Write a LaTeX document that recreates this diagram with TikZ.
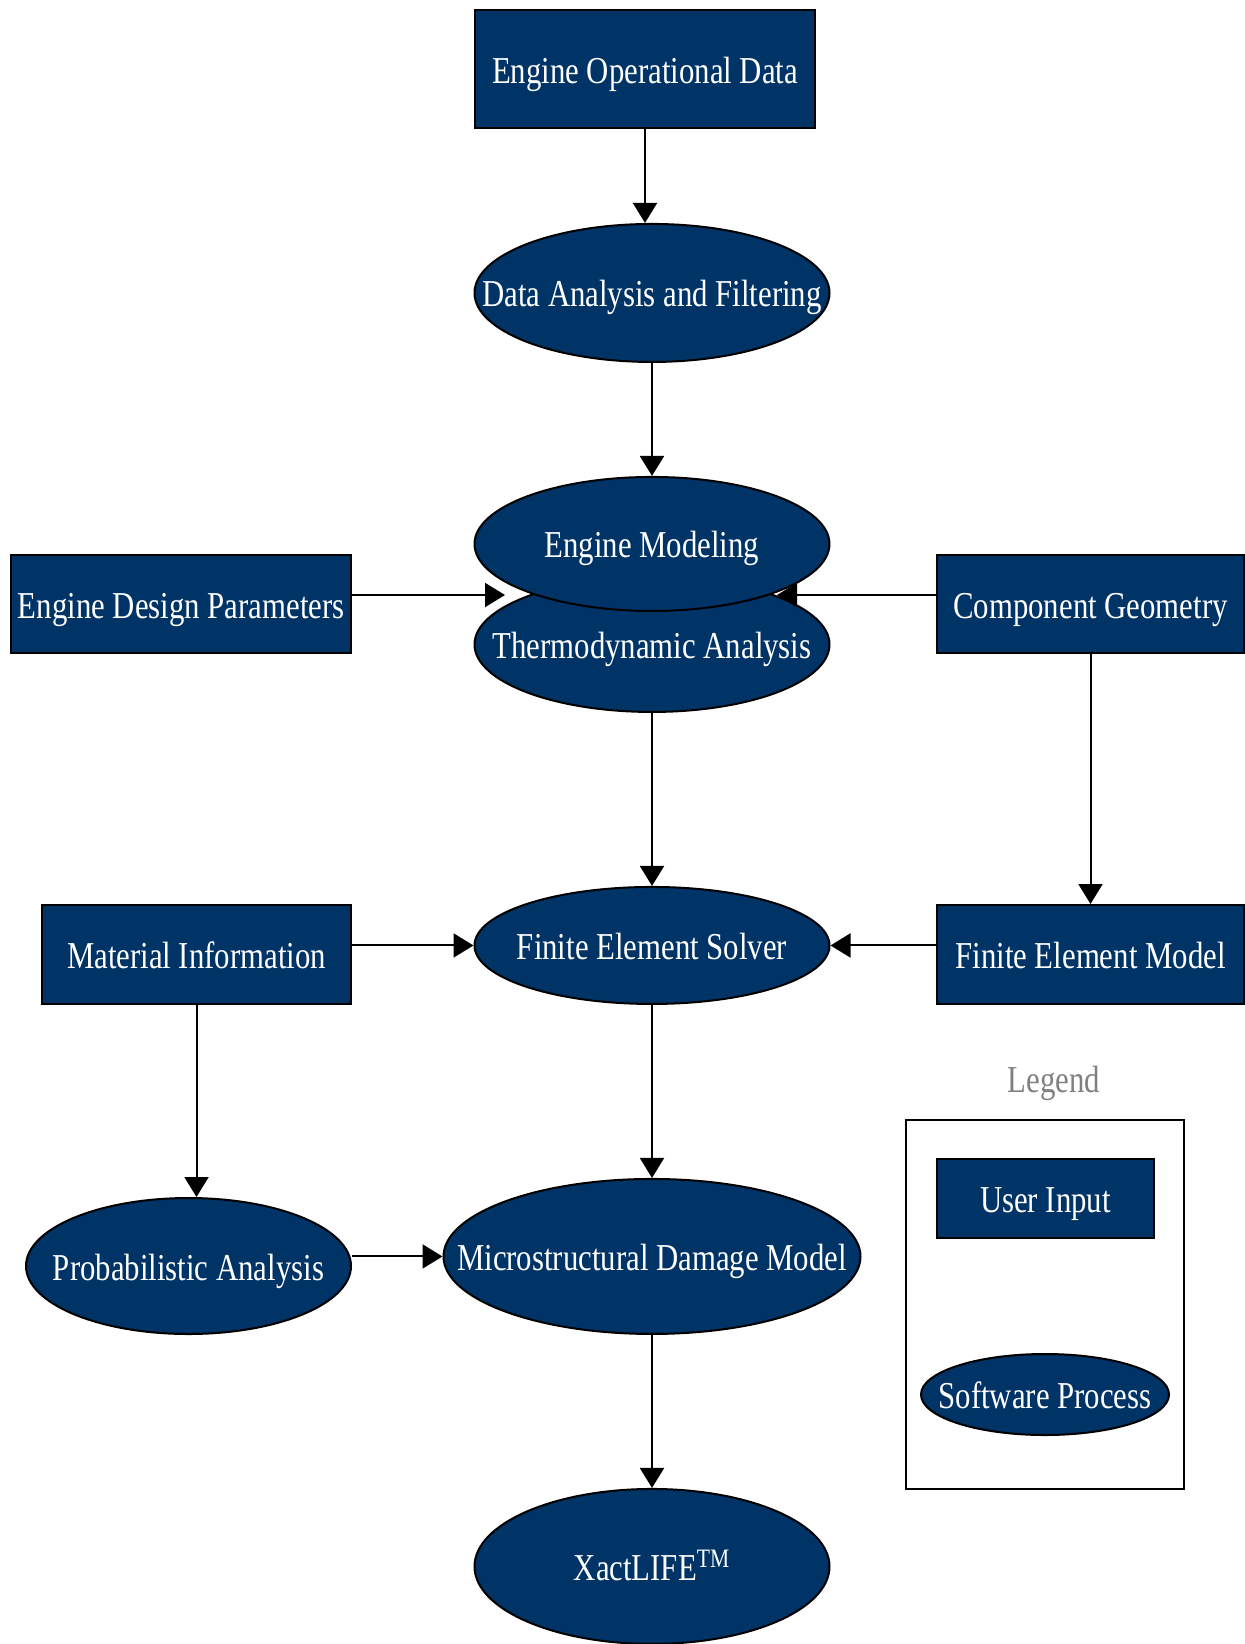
\documentclass[tikz,border=0pt]{standalone}
\usepackage{fontspec}
\setmainfont{Liberation Serif}[FakeStretch=0.81]
\usetikzlibrary{positioning,arrows.meta,shapes.geometric}
\definecolor{navy}{HTML}{003366}

\begin{document}
\begin{tikzpicture}[
      x=1pt, y=-1pt,
      font=\fontsize{19}{22}\selectfont,
      >={Triangle[length=10pt,width=12pt]},
      line width=1pt,
      every node/.style={text height=14pt, text depth=0pt},
      inbox/.style={draw, fill=navy, text=white, inner sep=0pt, minimum height=49pt},
      proc/.style={draw, ellipse, fill=navy, text=white, inner xsep=-80pt, inner ysep=0pt, minimum width=177.5pt}
  ]
    \useasboundingbox (0,0) rectangle (622,822);

    \node[inbox, minimum width=170pt, minimum height=58.75pt] (eod) at (322.5,34.6) {Engine Operational Data};
    \node[proc, minimum height=69pt, below=47pt of eod, xshift=3.5pt] (da) {Data Analysis and Filtering};
    \node[proc, minimum height=67.5pt, below=106.5pt of da] (ta) {Thermodynamic Analysis};
    \node[proc, minimum height=67pt, above=-18pt of ta] (em) {Engine Modeling};
    \node[proc, minimum height=58.5pt, below=86.5pt of ta] (fes) {Finite Element Solver};
    \node[proc, minimum width=208.5pt, minimum height=77.5pt, below=86.5pt of fes] (mdm) {Microstructural Damage Model};
    \node[proc, minimum height=77.5pt, below=76.5pt of mdm] (xl) {XactLIFE\textsuperscript{TM}};

    \node[inbox, minimum width=169.75pt] (edp) at (90.6,302) {Engine Design Parameters};
    \node[inbox, minimum width=153.5pt] (cg) at (545.25,302) {Component Geometry};
    \node[inbox, minimum width=153.5pt, minimum height=49.5pt, below=125pt of cg] (fem) {Finite Element Model};
    \node[inbox, minimum width=154.5pt, minimum height=49.5pt] (mi) at (98.25,477.25) {Material Information};
    \node[proc, minimum width=162.5pt, minimum height=68pt, below=96pt of mi, xshift=-4pt] (prob) {Probabilistic Analysis};

    \node[text=gray] (lgdtitle) at (527,539) {Legend};
    \node[draw, minimum width=139pt, minimum height=184.5pt] (lgd) at (522.5,652.25) {};
    \node[inbox, minimum width=108.5pt, minimum height=39.5pt] (ui) at (522.75,599.25) {User Input};
    \node[proc, minimum width=124pt, minimum height=40.5pt] (sp) at (522.5,697.25) {Software Process};

    \coordinate (tdl) at (252.5,297.5);
    \coordinate (tdr) at (388.5,297.5);

    \draw[->] (eod.south) -- (eod.south |- da.north);
    \draw[->] (da) -- (em);
    \draw[->] (edp.east |- tdl) -- (tdl);
    \draw[->] (cg.west |- tdr) -- (tdr);
    \draw[->] (ta) -- (fes);
    \draw[->] (cg) -- (fem);
    \draw[->] (mi.east |- fes.west) -- (fes.west);
    \draw[->] (fem.west |- fes.east) -- (fes.east);
    \draw[->] (mi.south) -- (mi.south |- prob.north);
    \draw[->] (fes) -- (mdm);
    \draw[->] (prob.east |- mdm.west) -- (mdm.west);
    \draw[->] (mdm) -- (xl);
  \end{tikzpicture}
\end{document}
